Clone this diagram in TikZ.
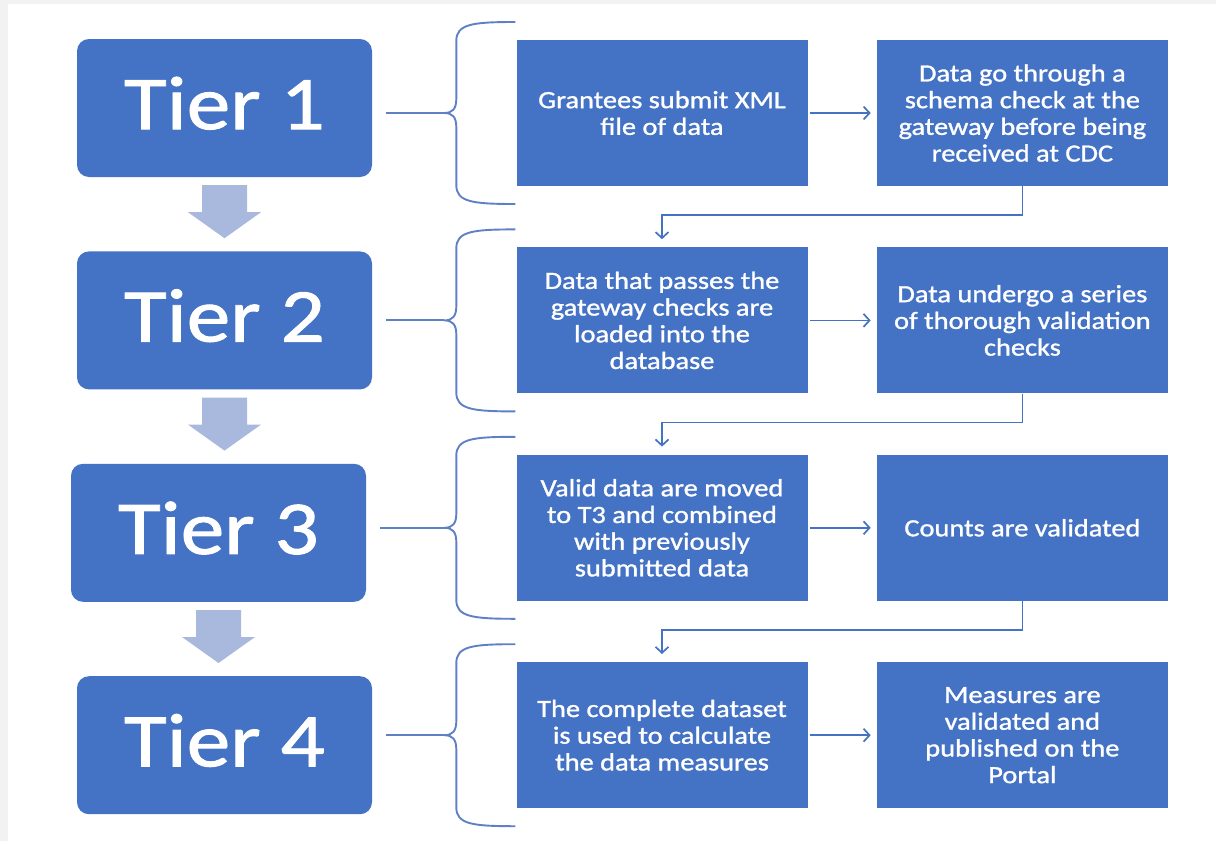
\documentclass[tikz,border=0pt]{standalone}
\usepackage{fontspec}
\setmainfont{Carlito}[FakeStretch=1.15]
\newfontfamily\tierfont{Carlito}[FakeStretch=1.15, FakeBold=1.2]
\newfontfamily\stepfont{Carlito}[FakeStretch=1.15, FakeBold=1.2]
\usetikzlibrary{arrows.meta, positioning}
\definecolor{tierblue}{RGB}{68, 114, 196}
\definecolor{braceblue}{RGB}{96, 128, 198}
\definecolor{downgrey}{RGB}{169, 185, 221}
\definecolor{edgegrey}{RGB}{242, 242, 242}

\begin{document}
\begin{tikzpicture}[
  x=1pt, y=1pt,
  node distance=74pt,
  tier/.style={fill=tierblue, rounded corners=12pt, inner sep=0pt,
               minimum width=295pt, minimum height=138pt, text depth=10pt,
               text=white, font=\tierfont\fontsize{76}{80}\selectfont},
  stepbox/.style={fill=tierblue, inner sep=0pt,
                  minimum width=291pt, minimum height=146pt,
                  align=center, text=white,
                  font=\stepfont\fontsize{24.7}{26.7}\selectfont},
  arr/.style={-{Straight Barb[length=6pt, width=13pt]}, tierblue, line width=1.7pt},
  bracket/.style={braceblue, line width=1.9pt},
  downarr/.style={fill=downgrey}
]
  % page and its grey edges
  \useasboundingbox (0,0) rectangle (1216,-841);
  \fill[white] (0,0) rectangle (1216,-841);
  \fill[edgegrey] (0,0) rectangle (8,-841);
  \fill[edgegrey] (0,0) rectangle (1216,-4);

  % tiers
  \node[tier] (t1) at (224.5,-108) {Tier 1};
  \node[tier, below=of t1] (t2) {Tier 2};
  \node[tier, below=of t2, xshift=-6pt] (t3) {Tier 3};
  \node[tier, below=of t3, xshift=6pt] (t4) {Tier 4};

  % process steps
  \node[stepbox] (p1) at (662,-113) {Grantees submit XML\\file of data};
  \node[stepbox, right=69pt of p1] (q1)
    {Data go through a\\schema check at the\\gateway before being\\received at CDC};
  \node[stepbox, below=61pt of p1] (p2)
    {Data that passes the\\gateway checks are\\loaded into the\\database};
  \node[stepbox, right=69pt of p2] (q2)
    {Data undergo a series\\of thorough validation\\checks};
  \node[stepbox, below=61pt of p2] (p3)
    {Valid data are moved\\to T3 and combined\\with previously\\submitted data};
  \node[stepbox, right=69pt of p3] (q3) {Counts are validated};
  \node[stepbox, below=61pt of p3] (p4)
    {The complete dataset\\is used to calculate\\the data measures};
  \node[stepbox, right=69pt of p4] (q4)
    {Measures are\\validated and\\published on the\\Portal};

  % block arrows between tiers
  \foreach \a in {t1, t2, t3} {
    \fill[downarr] ([yshift=-8pt]\a.south) ++(-22.5,0) -- ++(45,0) -- ++(0,-27)
      -- ++(14,0) -- ++(-36.5,-26) -- ++(-36.5,26) -- ++(14,0) -- cycle;
  }

  % braces
  \foreach \t/\p in {t1/p1, t2/p2, t3/p3, t4/p4} {
    \coordinate (tip) at ([xshift=-72pt]\p.west);
    \draw[bracket, shorten <=14pt] (tip -| \t.east) -- (tip);
    \draw[bracket] ([shift={(-1,91)}]\p.west)
      .. controls ([shift={(-44,91)}]\p.west) and ([shift={(-60,89)}]\p.west)
      .. ([shift={(-60,72)}]\p.west) -- ([shift={(-60,14)}]\p.west)
      .. controls ([shift={(-60,4)}]\p.west) and ([shift={(-64,0)}]\p.west)
      .. (tip)
      .. controls ([shift={(-64,0)}]\p.west) and ([shift={(-60,-4)}]\p.west)
      .. ([shift={(-60,-14)}]\p.west) -- ([shift={(-60,-72)}]\p.west)
      .. controls ([shift={(-60,-89)}]\p.west) and ([shift={(-44,-91)}]\p.west)
      .. ([shift={(-1,-91)}]\p.west);
  }

  % flow
  \draw[arr, shorten <=2pt, shorten >=6pt] (p1) -- (q1);
  \draw[arr, shorten <=2pt, shorten >=6pt] (p2) -- (q2);
  \draw[arr, shorten <=2pt, shorten >=6pt] (p3) -- (q3);
  \draw[arr, shorten <=2pt, shorten >=6pt] (p4) -- (q4);
  \draw[arr] (q1.south) -- ++(0,-29) -| ([yshift=8pt]p2.north);
  \draw[arr] (q2.south) -- ++(0,-29) -| ([yshift=8pt]p3.north);
  \draw[arr] (q3.south) -- ++(0,-29) -| ([yshift=8pt]p4.north);
\end{tikzpicture}
\end{document}
